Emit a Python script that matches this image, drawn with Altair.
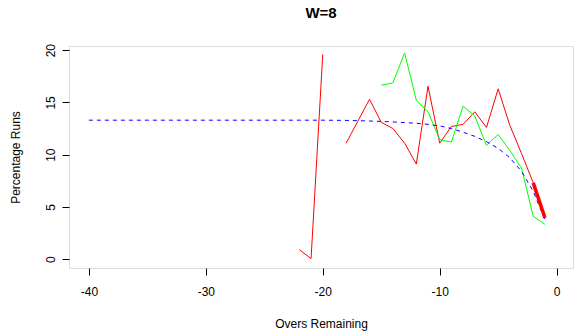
import altair as alt
import pandas as pd

# Observed percentage of runs per over, two innings, and the fitted curve
red_overs = [-22, -21, -20, -19, -18, -17, -16, -15, -14, -13, -12, -11,
             -10, -9, -8, -7, -6, -5, -4, -3, -2, -1]
red_pct = [0.9, 0.05, 19.6, None, 11.1, 13.2, 15.3, 13.1, 12.5, 11.1, 9.1, 16.55,
           11.1, 12.7, 12.9, 14.1, 12.6, 16.3, 12.8, 10.1, 7.3, 3.95]

green_overs = [-15, -14, -13, -12, -11, -10, -9, -8, -7, -6, -5, -4, -3, -2, -1]
green_pct = [16.65, 16.87, 19.74, 15.2, 14.1, 11.45, 11.2, 14.64, 13.7, 10.9,
             11.93, 10.4, 8.7, 4.1, 3.33]

fit_overs = list(range(-40, 0))
fit_pct = [13.3, 13.3, 13.3, 13.3, 13.3, 13.3, 13.3, 13.3, 13.3, 13.3,
           13.3, 13.3, 13.3, 13.3, 13.3, 13.3, 13.3, 13.3, 13.3, 13.3,
           13.3, 13.29, 13.28, 13.25, 13.22, 13.18, 13.13, 13.07, 13.0, 12.9,
           12.75, 12.5, 12.15, 11.75, 11.25, 10.6, 9.7, 8.4, 6.5, 3.75]

last_overs = [-2, -1]
last_pct = [7.3, 3.95]

FONT = "Liberation Sans"

# split the red series where an over is missing
seg, s = [], 0
for v in red_pct:
    if v is None:
        s += 1
    seg.append(s)
red_df = pd.DataFrame({"overs": red_overs, "pct": red_pct, "seg": seg}).dropna()
green_df = pd.DataFrame({"overs": green_overs, "pct": green_pct})
fit_df = pd.DataFrame({"overs": fit_overs, "pct": fit_pct})
last_df = pd.DataFrame({"overs": last_overs, "pct": last_pct})

x_enc = alt.X(
    "overs:Q",
    scale=alt.Scale(domain=[-41.7, 1.4], nice=False, zero=False),
    axis=alt.Axis(
        values=[-40, -30, -20, -10, 0], title="Overs Remaining", grid=False,
        domain=False, tickSize=7, tickColor="black", labelColor="black",
        labelFont=FONT, labelFontSize=12, labelPadding=11,
        labelExpr="'' + datum.value",
        titleFont=FONT, titleFontSize=12, titleFontWeight="normal",
        titleColor="black", titleX=252, titleY=55, titleBaseline="middle",
        titleAlign="center",
    ),
)
y_enc = alt.Y(
    "pct:Q",
    scale=alt.Scale(domain=[-0.85, 20.4], nice=False, zero=False),
    axis=alt.Axis(
        values=[0, 5, 10, 15, 20], title="Percentage Runs", grid=False,
        domain=False, tickSize=7, tickColor="black", labelColor="black",
        labelFont=FONT, labelFontSize=12, labelAngle=270, labelAlign="center",
        labelBaseline="alphabetic", labelPadding=8,
        labelExpr="'' + datum.value",
        titleFont=FONT, titleFontSize=12, titleFontWeight="normal",
        titleColor="black", titleAngle=270, titleX=-54, titleY=111,
        titleBaseline="middle", titleAlign="center",
    ),
)

red = alt.Chart(red_df).mark_line(color="#ff0000", strokeWidth=1).encode(
    x=x_enc, y=y_enc, detail="seg:N")
green = alt.Chart(green_df).mark_line(color="#00ff00", strokeWidth=1).encode(
    x="overs:Q", y="pct:Q")
fit = alt.Chart(fit_df).mark_line(color="#0000ff", strokeWidth=1,
                                  strokeDash=[4, 4]).encode(x="overs:Q", y="pct:Q")
last = alt.Chart(last_df).mark_line(color="#ff0000", strokeWidth=3.5).encode(
    x="overs:Q", y="pct:Q")

chart = (
    alt.layer(red, green, fit, last)
    .properties(
        width=504, height=222,
        title=alt.Title("W=8", font=FONT, fontSize=15, fontWeight="bold",
                        color="black", anchor="middle", frame="group", offset=23),
        autosize=alt.AutoSizeParams(type="none"),
        padding={"left": 69, "top": 46, "right": 1, "bottom": 68},
    )
    .configure_view(stroke="black", strokeWidth=1)
    .configure(background="white")
)

chart.save("out.html", embed_options={"renderer": "svg", "actions": False})
